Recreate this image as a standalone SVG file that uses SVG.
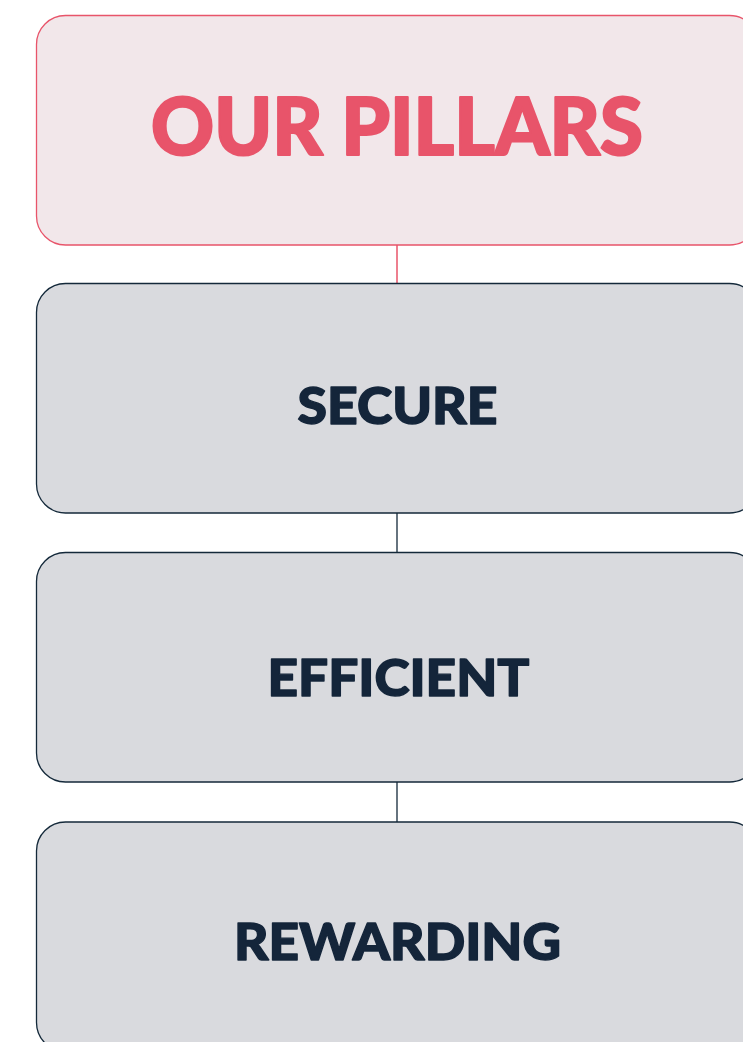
<svg xmlns="http://www.w3.org/2000/svg" width="743" height="1042" viewBox="0 0 743 1042">
<style>
.title{fill:#F2E7EA;stroke:#E8546A;stroke-width:1.3}
.box{fill:#D9DADE;stroke:#14293A;stroke-width:1.3}
.tt{font-family:Lato,"Liberation Sans",sans-serif;font-weight:900;fill:#E8546A;stroke:#E8546A;stroke-width:2.2;stroke-linejoin:round;font-size:80px;text-anchor:middle}
.bt{font-family:Lato,"Liberation Sans",sans-serif;font-weight:900;fill:#14253A;stroke:#14253A;stroke-width:1.4;stroke-linejoin:round;font-size:52px;text-anchor:middle}
.pk{stroke:#E8546A;stroke-width:1.5}
.dk{stroke:#14293A;stroke-width:1.3}
</style>
<g id="connectors">
<line class="pk" x1="397" y1="245" x2="397" y2="283"/>
<line class="dk" x1="397" y1="513" x2="397" y2="552"/>
<line class="dk" x1="397" y1="782" x2="397" y2="822"/>
</g>
<g id="node-title">
<rect class="title" x="36.5" y="15.5" width="722" height="229.5" rx="29"/>
<text class="tt" x="397" y="155" textLength="492" lengthAdjust="spacingAndGlyphs">OUR PILLARS</text>
</g>
<g id="node-secure">
<rect class="box" x="36.5" y="283.5" width="722" height="229.5" rx="29"/>
<text class="bt" x="397.5" y="424" textLength="200" lengthAdjust="spacingAndGlyphs">SECURE</text>
</g>
<g id="node-efficient">
<rect class="box" x="36.5" y="552.5" width="722" height="229.5" rx="29"/>
<text class="bt" x="398.5" y="695.5" textLength="262" lengthAdjust="spacingAndGlyphs">EFFICIENT</text>
</g>
<g id="node-rewarding">
<rect class="box" x="36.5" y="822" width="722" height="229.5" rx="29"/>
<text class="bt" x="397.5" y="960" textLength="327" lengthAdjust="spacingAndGlyphs">REWARDING</text>
</g>
</svg>
